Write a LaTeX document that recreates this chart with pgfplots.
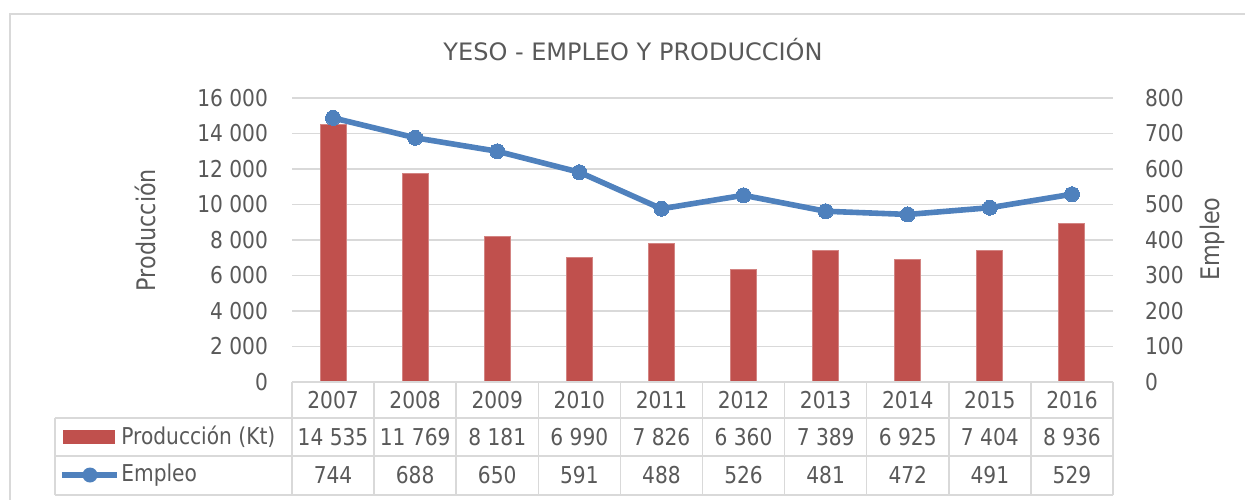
\documentclass[border=0pt]{standalone}
\usepackage{fontspec}
\setmainfont{DejaVu Sans}
\newfontfamily\narrow{DejaVu Sans}[FakeStretch=0.87]
\usepackage{pgfplots}
\usepackage{pgfplotstable}
\pgfplotsset{compat=1.18}

\definecolor{barRed}{HTML}{C0504D}
\definecolor{lineBlue}{HTML}{4F81BD}
\definecolor{gridGray}{HTML}{D9D9D9}
\definecolor{txtGray}{HTML}{595959}

\newcommand{\tickfont}{\narrow\fontsize{11.6}{13}\selectfont}
\newcommand{\labfont}{\narrow\fontsize{12.8}{14}\selectfont}

% yeso: produccion (Kt) y empleo
\pgfplotstableread{
idx year prod emp
0 2007 14535 744
1 2008 11769 688
2 2009 8181 650
3 2010 6990 591
4 2011 7826 488
5 2012 6360 526
6 2013 7389 481
7 2014 6925 472
8 2015 7404 491
9 2016 8936 529
}\yeso

\newcommand{\cell}[2]{\pgfplotstablegetelem{#1}{#2}\of\yeso\pgfplotsretval}
\newcommand{\numcell}[2]{\pgfplotstablegetelem{#1}{#2}\of\yeso\pgfmathprintnumber[1000 sep={\ },assume math mode=true]{\pgfplotsretval}}

\pgfplotsset{
  common/.style={
    at={(0pt,0pt)}, anchor=south west,
    scale only axis, width=410.5pt, height=142pt,
    xmin=-0.5, xmax=9.5, xtick=\empty,
    axis line style={draw=none}, major tick length=0pt,
    scaled y ticks=false,
    /pgf/number format/assume math mode=true,
    /pgf/number format/1000 sep={\ },
    tick label style={txtGray, font=\tickfont},
    label style={txtGray, font=\labfont},
    clip=false,
  }
}

\begin{document}
\begin{tikzpicture}
\path[use as bounding box] (-146pt,-58.5pt) rectangle (476.5pt,191pt);
\draw[gridGray, line width=0.75pt] (-141pt,-70pt) -- (-141pt,184pt) -- (490pt,184pt);

\begin{axis}[
  common,
  ymin=0, ymax=16000, ytick distance=2000,
  ymajorgrids, grid style={gridGray, line width=0.75pt},
  yticklabel style={xshift=-8.5pt},
  ylabel={Producción},
  ylabel style={at={(axis description cs:-0.179,0.535)}, anchor=center},
]
\addplot[ybar, bar width=13pt, fill=barRed, draw=barRed!70!white, line width=0.5pt]
  table[x=idx, y=prod]{\yeso};
\pgfplotsinvokeforeach{0,...,9}{
  \node[txtGray, font=\tickfont, yshift=-9pt] at (axis cs:#1,0) {\cell{#1}{year}};
  \node[txtGray, font=\tickfont, yshift=-27.5pt] at (axis cs:#1,0) {\numcell{#1}{prod}};
  \node[txtGray, font=\tickfont, yshift=-46.5pt] at (axis cs:#1,0) {\numcell{#1}{emp}};
}
\end{axis}

\begin{axis}[
  common,
  hide x axis,
  axis y line*=right,
  ymin=0, ymax=800, ytick distance=100,
  yticklabel style={xshift=12.5pt},
  ylabel={Empleo},
  ylabel style={at={(axis description cs:1.1206,0.503)}, anchor=center},
]
\addplot[lineBlue, line width=2.8pt, mark=*, mark size=3.75pt,
  mark options={fill=lineBlue, draw=lineBlue, line width=0pt}]
  table[x=idx, y=emp]{\yeso};
\end{axis}

% data table grid
\begin{scope}[gridGray, line width=0.75pt]
\draw (0pt,0pt) -- (410.5pt,0pt);
\draw (-118.5pt,-18pt) -- (410.5pt,-18pt);
\draw (-118.5pt,-37pt) -- (410.5pt,-37pt);
\draw (-118.5pt,-56.5pt) -- (410.5pt,-56.5pt);
\draw (-118.5pt,-18pt) -- (-118.5pt,-56.5pt);
\foreach \k in {0,...,10} \draw (\k*41.05pt,0pt) -- (\k*41.05pt,-56.5pt);
\end{scope}

% legend keys
\fill[barRed] (-114.5pt,-24pt) rectangle (-88.5pt,-31pt);
\draw[lineBlue, line width=2.8pt] (-115pt,-46.5pt) -- (-87.5pt,-46.5pt);
\fill[lineBlue] (-101pt,-46.5pt) circle (3.75pt);
\node[anchor=west, txtGray, font=\tickfont, inner sep=0pt] at (-85.5pt,-27.5pt) {Producción (Kt)};
\node[anchor=west, txtGray, font=\tickfont, inner sep=0pt] at (-85.5pt,-46.5pt) {Empleo};

\node[txtGray, font=\fontsize{12}{14}\selectfont] at (170.5pt,166pt) {YESO - EMPLEO Y PRODUCCIÓN};
\end{tikzpicture}
\end{document}
